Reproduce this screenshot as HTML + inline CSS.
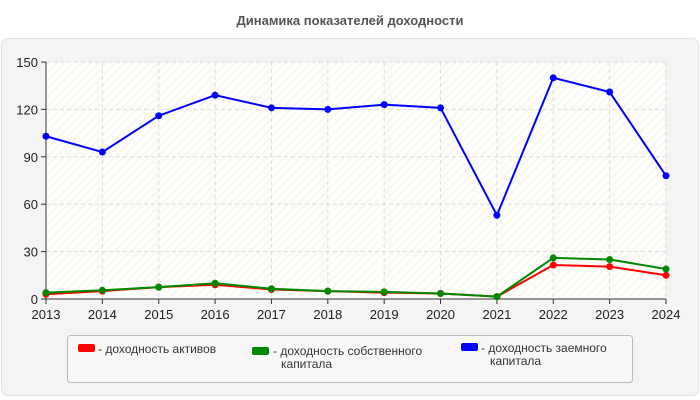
<!DOCTYPE html>
<html><head><meta charset="utf-8"><style>
html,body{margin:0;padding:0;background:#fff;width:700px;height:400px;overflow:hidden;font-family:"Liberation Sans",sans-serif}
svg text{font-family:"Liberation Sans",sans-serif}
</style></head><body>
<svg id="chart" width="700" height="400">
<defs>
<pattern id="hatch" width="6" height="6" patternUnits="userSpaceOnUse" patternTransform="rotate(45)">
<rect width="6" height="6" fill="#fdfdf9"/><line x1="0" y1="0" x2="0" y2="6" stroke="#efefef" stroke-width="1.5"/>
</pattern>
</defs>
<text x="350" y="25" text-anchor="middle" font-size="13" font-weight="bold" fill="#555">Динамика показателей доходности</text>
<rect x="1.5" y="38.5" width="697" height="357" rx="6" fill="#f4f4f4" stroke="#e2e2e2"/>
<rect x="46" y="62" width="620" height="237" fill="url(#hatch)"/>
<g id="grid"></g>
<g id="axes"></g>
<g id="series"></g>
<g>
<rect x="67.5" y="335.5" width="565" height="47" rx="3" fill="#f8f8f8" stroke="#bbb"/>
<rect x="78" y="344" width="17" height="8" rx="2" fill="#f00"/>
<text x="98" y="353" font-size="12" fill="#333">- доходность активов</text>
<rect x="252" y="347" width="17" height="8" rx="2" fill="#080"/>
<text x="273" y="355" font-size="12" fill="#333">- доходность собственного</text>
<text x="281" y="368" font-size="12" fill="#333">капитала</text>
<rect x="461" y="343" width="17" height="8" rx="2" fill="#00f"/>
<text x="481" y="352" font-size="12" fill="#333">- доходность заемного</text>
<text x="490" y="365" font-size="12" fill="#333">капитала</text>
</g>
</svg>
<script>
const years=[2013,2014,2015,2016,2017,2018,2019,2020,2021,2022,2023,2024];
const assets=[3,5,7.5,9,6,5,4,3.5,1.5,21.5,20.5,15];
const equity=[4,5.5,7.5,10,6.5,5,4.5,3.5,1.5,26,25,19];
const debt=[103,93,116,129,121,120,123,121,53,140,131,78];
const yTicks=[0,30,60,90,120,150];
const NS="http://www.w3.org/2000/svg";
const X0=46,X1=666,Y0=299,Y1=62,YMAX=150;
const xs=i=>X0+i*(X1-X0)/(years.length-1);
const ys=v=>Y0-v*(Y0-Y1)/YMAX;
function mk(t,a,p){const e=document.createElementNS(NS,t);for(const k in a)e.setAttribute(k,a[k]);p.appendChild(e);return e;}
const grid=document.getElementById('grid'),axes=document.getElementById('axes'),ser=document.getElementById('series');
yTicks.forEach(v=>{
 if(v>0){const l=mk('line',{x1:X0,x2:X1,y1:ys(v),y2:ys(v),stroke:'#ddd','stroke-dasharray':'4,3'},grid);
 
 }
 mk('line',{x1:X0-5,x2:X0,y1:ys(v),y2:ys(v),stroke:'#333'},axes);
 const t=mk('text',{x:X0-8,y:ys(v)+5,'text-anchor':'end','font-size':'13',fill:'#222'},axes);t.textContent=v;
 
 
});
years.forEach((y,i)=>{
 if(i>0){const l=mk('line',{x1:xs(i),x2:xs(i),y1:Y1,y2:Y0,stroke:'#ddd','stroke-dasharray':'4,3'},grid);
 
 }
 mk('line',{x1:xs(i),x2:xs(i),y1:Y0,y2:Y0+5,stroke:'#333'},axes);
 const t=mk('text',{x:xs(i),y:Y0+20,'text-anchor':'middle','font-size':'13',fill:'#222'},axes);t.textContent=y;
 
 
});
mk('line',{x1:X0,x2:X0,y1:Y1,y2:Y0,stroke:'#333'},axes);
mk('line',{x1:X0,x2:X1,y1:Y0,y2:Y0,stroke:'#333'},axes);
[[assets,'#f00','assets'],[equity,'#080','equity'],[debt,'#00f','debt']].forEach(([d,c,n])=>{
 const g=mk('g',{},ser);
 
 
 mk('polyline',{points:d.map((v,i)=>xs(i)+','+ys(v)).join(' '),fill:'none',stroke:c,'stroke-width':2},g);
 d.forEach((v,i)=>{const p=mk('circle',{cx:xs(i),cy:ys(v),r:3.5,fill:c},g);
 
 });
});
</script>
</body></html>
